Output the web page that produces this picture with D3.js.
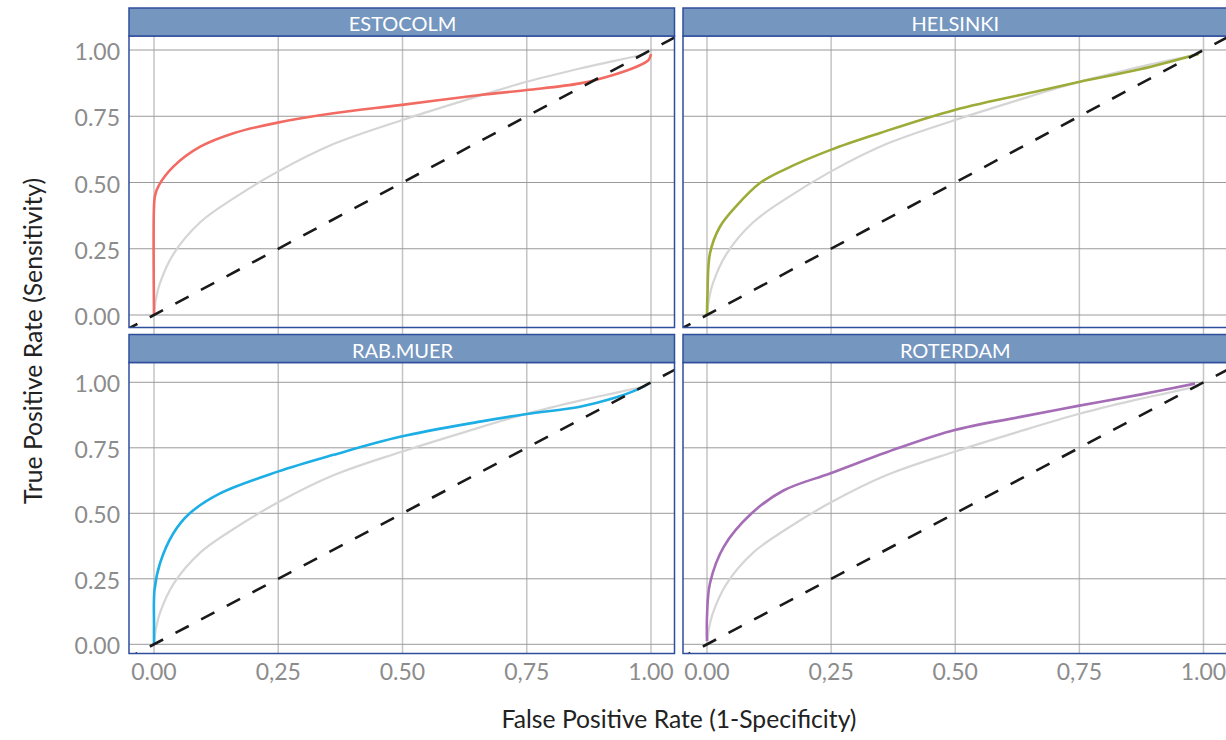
<!DOCTYPE html>
<html>
<head>
<meta charset="utf-8">
<script src="https://cdn.jsdelivr.net/npm/d3@7"></script>
<style>
  html, body { margin: 0; padding: 0; background: #ffffff; }
  svg { display: block; font-family: "Lato", "Open Sans", sans-serif; }
</style>
</head>
<body>
<svg id="chart" width="1226" height="740"></svg>
<script>
// ---------------- DATA ----------------
const cities = ["ESTOCOLM", "HELSINKI", "RAB.MUER", "ROTERDAM"];
const cityColors = ["#f26b63", "#9dab38", "#1caee4", "#a46db6"];

const xTickValues = [0, 0.25, 0.5, 0.75, 1];
const xTickLabels = ["0.00", "0,25", "0.50", "0,75", "1.00"];
const yTickValues = [0, 0.25, 0.5, 0.75, 1];
const yTickLabels = ["0.00", "0.25", "0.50", "0.75", "1.00"];

// pooled reference ROC (grey), same in every panel
const refFpr = [0, 0.004, 0.012, 0.039, 0.093, 0.16, 0.249, 0.361, 0.495, 0.625, 0.75, 0.857, 0.924, 0.99];
const refTpr = [0, 0.06, 0.12, 0.23, 0.35, 0.44, 0.541, 0.645, 0.733, 0.81, 0.88, 0.93, 0.958, 0.985];

const estocolmFpr = [0, 0, 0.002, 0.01, 0.039, 0.093, 0.16, 0.249, 0.361, 0.495, 0.656, 0.75, 0.857, 0.924, 0.971, 0.995, 1.0];
const estocolmTpr = [0, 0.409, 0.45, 0.49, 0.56, 0.635, 0.686, 0.726, 0.761, 0.792, 0.830, 0.849, 0.874, 0.906, 0.937, 0.962, 0.985];

const helsinkiFpr = [0, 0.001, 0.006, 0.026, 0.058, 0.106, 0.154, 0.249, 0.347, 0.499, 0.670, 0.751, 0.872, 0.99];
const helsinkiTpr = [0, 0.08, 0.233, 0.333, 0.409, 0.497, 0.547, 0.623, 0.686, 0.774, 0.846, 0.880, 0.927, 0.985];

const rabMuerFpr = [0, 0.0, 0.001, 0.012, 0.039, 0.072, 0.133, 0.249, 0.361, 0.495, 0.656, 0.75, 0.857, 0.924, 0.971, 0.998];
const rabMuerTpr = [0, 0.08, 0.207, 0.309, 0.424, 0.5, 0.576, 0.659, 0.723, 0.792, 0.850, 0.879, 0.907, 0.939, 0.971, 0.998];

const roterdamFpr = [0, 0.0, 0.006, 0.034, 0.090, 0.154, 0.249, 0.387, 0.499, 0.629, 0.75, 0.872, 0.983];
const roterdamTpr = [0.012, 0.105, 0.233, 0.373, 0.5, 0.587, 0.653, 0.75, 0.818, 0.867, 0.911, 0.953, 0.995];

const cityFpr = [estocolmFpr, helsinkiFpr, rabMuerFpr, roterdamFpr];
const cityTpr = [estocolmTpr, helsinkiTpr, rabMuerTpr, roterdamTpr];

// ---------------- LAYOUT ----------------
const svg = d3.select("#chart");
const borderColor = "#2f4d9d";
const headerFill = "#7596bf";
const fontStack = "'Lato', 'Open Sans', sans-serif";

const cols = [
  { left: 129, right: 674.5, x0: 154, x1: 651 },
  { left: 683, right: 1229, x0: 707, x1: 1203.5 }
];
const rows = [
  { hTop: 8, top: 36, bottom: 327.5, y0: 315, y1: 50 },
  { hTop: 334.5, top: 362.5, bottom: 653.5, y0: 644.3, y1: 382.3 }
];

const xScales = cols.map(c => d3.scaleLinear().domain([0, 1]).range([c.x0, c.x1]));
const yScales = rows.map(r => d3.scaleLinear().domain([0, 1]).range([r.y0, r.y1]));

const defs = svg.append("defs");

// vertical gridlines span both rows (under headers)
cols.forEach((c, ci) => {
  svg.append("g").selectAll("line").data(xTickValues).join("line")
    .attr("x1", d => xScales[ci](d)).attr("x2", d => xScales[ci](d))
    .attr("y1", rows[0].top).attr("y2", rows[1].bottom)
    .attr("stroke", "#c4c4c4").attr("stroke-width", 1.5);
});

cities.forEach((name, i) => {
  const ci = i % 2, ri = Math.floor(i / 2);
  const c = cols[ci], r = rows[ri];
  const x = xScales[ci], y = yScales[ri];
  const g = svg.append("g");

  defs.append("clipPath").attr("id", "clip" + i)
    .append("rect").attr("x", c.left).attr("y", r.top)
    .attr("width", c.right - c.left).attr("height", r.bottom - r.top);

  // horizontal gridlines
  g.selectAll("line.h").data(yTickValues).join("line").attr("class", "h")
    .attr("x1", c.left).attr("x2", c.right)
    .attr("y1", d => y(d)).attr("y2", d => y(d))
    .attr("stroke", "#9a9a9a").attr("stroke-width", 1);

  const plot = g.append("g").attr("clip-path", "url(#clip" + i + ")");

  const line = d3.line().x(d => x(d[0])).y(d => y(d[1])).curve(d3.curveCatmullRom.alpha(0.5));

  // reference curve
  plot.append("path")
    .datum(refFpr.map((v, k) => [v, refTpr[k]]))
    .attr("d", line).attr("fill", "none")
    .attr("stroke", "#d5d5d5").attr("stroke-width", 2.2);

  // city curve
  plot.append("path")
    .datum(cityFpr[i].map((v, k) => [v, cityTpr[i][k]]))
    .attr("d", line).attr("fill", "none")
    .attr("stroke", cityColors[i]).attr("stroke-width", 2.6);

  // diagonal chance line
  plot.append("line")
    .attr("x1", x(-0.06)).attr("y1", y(-0.06))
    .attr("x2", x(1.1)).attr("y2", y(1.1))
    .attr("stroke", "#1a1a1a").attr("stroke-width", 2.6)
    .attr("stroke-dasharray", "15,14");

  // panel border
  g.append("rect").attr("x", c.left).attr("y", r.top)
    .attr("width", c.right - c.left).attr("height", r.bottom - r.top)
    .attr("fill", "none").attr("stroke", borderColor).attr("stroke-width", 1.5);

  // strip header
  g.append("rect").attr("x", c.left).attr("y", r.hTop)
    .attr("width", c.right - c.left).attr("height", r.top - r.hTop)
    .attr("fill", headerFill).attr("stroke", borderColor).attr("stroke-width", 1.5);
  g.append("text")
    .attr("x", x(0.5)).attr("y", (r.hTop + r.top) / 2 + 1)
    .attr("text-anchor", "middle").attr("dominant-baseline", "central")
    .attr("fill", "#ffffff").attr("font-size", 20).attr("font-family", fontStack).text(name);

  // y tick labels (left column only)
  if (ci === 0) {
    g.selectAll("text.yt").data(yTickValues).join("text").attr("class", "yt")
      .attr("x", 120).attr("y", d => y(d) + 1)
      .attr("text-anchor", "end").attr("dominant-baseline", "central")
      .attr("fill", "#8c8c8c").attr("font-size", 23).attr("font-family", fontStack)
      .text((d, k) => yTickLabels[k]);
  }
  // x tick labels (bottom row only)
  if (ri === 1) {
    g.selectAll("text.xt").data(xTickValues).join("text").attr("class", "xt")
      .attr("x", d => x(d)).attr("y", 671)
      .attr("text-anchor", "middle").attr("dominant-baseline", "central")
      .attr("fill", "#8c8c8c").attr("font-size", 23).attr("font-family", fontStack)
      .text((d, k) => xTickLabels[k]);
  }
});

// axis titles
svg.append("text")
  .attr("transform", "translate(32,341) rotate(-90)")
  .attr("text-anchor", "middle").attr("dominant-baseline", "central")
  .attr("fill", "#222").attr("font-size", 24.7).attr("font-family", fontStack)
  .text("True Positive Rate (Sensitivity)");
svg.append("text")
  .attr("x", 679).attr("y", 718)
  .attr("text-anchor", "middle").attr("dominant-baseline", "central")
  .attr("fill", "#222").attr("font-size", 24.7).attr("font-family", fontStack)
  .text("False Positive Rate (1-Specificity)");
</script>
</body>
</html>
